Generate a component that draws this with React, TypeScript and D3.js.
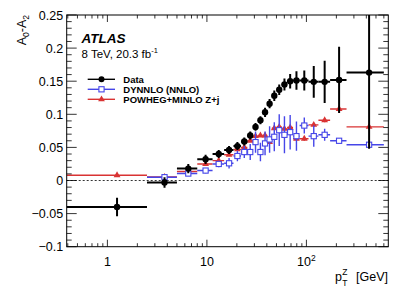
import React from 'react';
import * as d3 from 'd3';

// pT(Z) bin edges [GeV]
const binEdges = [0, 2.5, 5, 8, 11.4, 14.9, 18.5, 22, 25.5, 29, 32.6, 36.4, 40.4, 44.9, 50.2, 56.4, 63.9, 73.4, 85.4, 105, 132, 173, 253, 600];

// measured A0-A2
const dataVal = [-0.040, -0.003, 0.018, 0.032, 0.040, 0.046, 0.052, 0.059, 0.068, 0.081, 0.091, 0.103, 0.116, 0.128, 0.137, 0.145, 0.150, 0.151, 0.151, 0.149, 0.149, 0.152, 0.163];
const dataErr = [0.014, 0.008, 0.007, 0.007, 0.006, 0.006, 0.006, 0.006, 0.006, 0.006, 0.006, 0.007, 0.007, 0.008, 0.008, 0.009, 0.011, 0.014, 0.015, 0.024, 0.032, 0.050, 0.115];

// DYNNLO (NNLO), no first bin
const dynnloVal = [null, 0.005, 0.0105, 0.015, 0.025, 0.026, 0.037, 0.043, 0.043, 0.058, 0.043, 0.056, 0.062, 0.066, 0.076, 0.069, 0.073, 0.067, 0.083, 0.067, 0.069, 0.060, 0.054];
const dynnloErr = [0, 0.002, 0.003, 0.004, 0.005, 0.008, 0.008, 0.009, 0.012, 0.016, 0.014, 0.018, 0.020, 0.022, 0.024, 0.028, 0.026, 0.022, 0.012, 0.016, 0.009, 0.004, 0.003];

// POWHEG+MINLO Z+j
const powhegVal = [0.008, 0.0055, 0.0136, 0.025, 0.030, 0.039, 0.047, 0.050, 0.060, 0.067, 0.068, 0.068, 0.058, 0.079, 0.081, 0.078, 0.080, 0.063, 0.063, 0.084, 0.091, 0.108, 0.081];
const powhegErr = [0.001, 0.001, 0.001, 0.002, 0.002, 0.002, 0.002, 0.002, 0.002, 0.002, 0.002, 0.002, 0.002, 0.002, 0.002, 0.002, 0.003, 0.003, 0.003, 0.003, 0.003, 0.004, 0.004];

const yTickLabels = ['-0.1', '-0.05', '0', '0.05', '0.1', '0.15', '0.2', '0.25'];
const xMajor = [1, 10, 100];

const BLUE = '#4646e8';
const RED = '#d93333';
const FONT = 'Liberation Sans, Arial, Helvetica, sans-serif';

const W = 409, H = 294;
const L = 66.7, R = 388.3, T = 15, B = 246.7;

export default function App() {
  const x = d3.scaleLog().domain([0.39, 665]).range([L, R]).clamp(true);
  const y = d3.scaleLinear().domain([-0.1, 0.25]).range([B, T]);

  const bins = binEdges.slice(0, -1).map((lo, i) => {
    const hi = binEdges[i + 1];
    return { lo, hi, c: (lo + hi) / 2 };
  });

  const minorX = x.ticks().filter((t) => !xMajor.includes(t));
  const minorY = d3.range(-10, 26).map((d) => d / 100);

  const series = (vals, errs, color, lw, marker, key) =>
    bins.map((b, i) => {
      const v = vals[i];
      if (v == null) return null;
      const cx = x(b.c), cy = y(v);
      let m;
      if (marker === 'circle') m = <circle cx={cx} cy={cy} r={3.2} fill="black" />;
      else if (marker === 'square') m = <rect x={cx - 2.6} y={cy - 2.6} width={5.2} height={5.2} fill="white" stroke={color} strokeWidth={1.1} />;
      else m = <path d={d3.symbol(d3.symbolTriangle, 20)()} transform={`translate(${cx},${cy})`} fill={color} />;
      return (
        <g key={key + i}>
          <line x1={x(Math.max(b.lo, 0.39))} x2={x(b.hi)} y1={cy} y2={cy} stroke={color} strokeWidth={lw} />
          <line x1={cx} x2={cx} y1={y(v - errs[i])} y2={y(v + errs[i])} stroke={color} strokeWidth={lw} />
          {m}
        </g>
      );
    });

  const legend = [
    { label: 'Data', color: 'black', marker: 'circle' },
    { label: 'DYNNLO (NNLO)', color: BLUE, marker: 'square' },
    { label: 'POWHEG+MINLO Z+j', color: RED, marker: 'triangle' },
  ];

  return (
    <div style={{ position: 'absolute', left: 0, top: 0 }}>
      <svg width={W} height={H} style={{ display: 'block', fontFamily: FONT }}>
        <rect width={W} height={H} fill="white" />
        <defs>
          <clipPath id="frame">
            <rect x={L} y={T} width={R - L} height={B - T} />
          </clipPath>
        </defs>

        {/* zero line */}
        <line x1={L} x2={R} y1={y(0)} y2={y(0)} stroke="black" strokeWidth={0.8} strokeDasharray="2,2" />

        <g clipPath="url(#frame)">
          {series(powhegVal, powhegErr, RED, 1.4, 'triangle', 'p')}
          {series(dynnloVal, dynnloErr, BLUE, 1.4, 'square', 'd')}
          {series(dataVal, dataErr, 'black', 2, 'circle', 'm')}
        </g>

        {/* frame */}
        <rect x={L} y={T} width={R - L} height={B - T} fill="none" stroke="black" strokeWidth={1} />

        {/* y ticks */}
        {minorY.map((t) => {
          const major = Math.round(t * 100) % 5 === 0;
          const len = major ? 10 : 5;
          return (
            <g key={'y' + t}>
              <line x1={L} x2={L + len} y1={y(t)} y2={y(t)} stroke="black" strokeWidth={0.8} />
              <line x1={R} x2={R - len} y1={y(t)} y2={y(t)} stroke="black" strokeWidth={0.8} />
            </g>
          );
        })}
        {yTickLabels.map((s) => (
          <text key={s} x={L - 3.5} y={y(+s)} dy="0.36em" textAnchor="end" fontSize={12.5}>
            {s.replace('-', '\u2212')}
          </text>
        ))}

        {/* x ticks */}
        {minorX.map((t) => (
          <g key={'x' + t}>
            <line x1={x(t)} x2={x(t)} y1={B} y2={B - 3.5} stroke="black" strokeWidth={0.8} />
            <line x1={x(t)} x2={x(t)} y1={T} y2={T + 3.5} stroke="black" strokeWidth={0.8} />
          </g>
        ))}
        {xMajor.map((t) => (
          <g key={'X' + t}>
            <line x1={x(t)} x2={x(t)} y1={B} y2={B - 7} stroke="black" strokeWidth={0.8} />
            <line x1={x(t)} x2={x(t)} y1={T} y2={T + 7} stroke="black" strokeWidth={0.8} />
          </g>
        ))}
        <text x={x(1)} y={266} textAnchor="middle" fontSize={12.5}>1</text>
        <text x={x(10)} y={266} textAnchor="middle" fontSize={12.5}>10</text>
        <text x={x(100)} y={266} textAnchor="middle" fontSize={12.5}>
          10<tspan dy={-5} fontSize={8.5}>2</tspan>
        </text>

        {/* axis titles */}
        <text x={388} y={281} textAnchor="end" fontSize={12.5}>[GeV]</text>
        <text x={335} y={281} fontSize={12.5}>p</text>
        <text x={342.3} y={275} fontSize={8.5}>Z</text>
        <text x={342.3} y={286} fontSize={8.5}>T</text>

        <text transform="translate(26,15) rotate(-90)" textAnchor="end" fontSize={12.5}>
          A<tspan dy={3} fontSize={8.5}>0</tspan>
          <tspan dy={-3}>-A</tspan>
          <tspan dy={3} fontSize={8.5}>2</tspan>
        </text>

        {/* labels */}
        <text x={81.5} y={42.7} fontSize={13.5} fontWeight="bold" fontStyle="italic">ATLAS</text>
        <text x={81.5} y={57.5} fontSize={11.5}>
          8 TeV, 20.3 fb<tspan dy={-4.5} fontSize={7.5}>-1</tspan>
        </text>

        {/* legend */}
        {legend.map((e, i) => {
          const ly = 79.3 + i * 10;
          const lx = 101.5;
          let m;
          if (e.marker === 'circle') m = <circle cx={lx} cy={ly} r={3} fill="black" />;
          else if (e.marker === 'square') m = <rect x={lx - 2.6} y={ly - 2.6} width={5.2} height={5.2} fill="white" stroke={e.color} strokeWidth={1.1} />;
          else m = <path d={d3.symbol(d3.symbolTriangle, 20)()} transform={`translate(${lx},${ly})`} fill={e.color} />;
          return (
            <g key={e.label}>
              <line x1={87.7} x2={115} y1={ly} y2={ly} stroke={e.color} strokeWidth={1.4} />
              {m}
              <text x={123.3} y={ly} dy="0.36em" fontSize={9.5} fontWeight="bold">{e.label}</text>
            </g>
          );
        })}
      </svg>
    </div>
  );
}
